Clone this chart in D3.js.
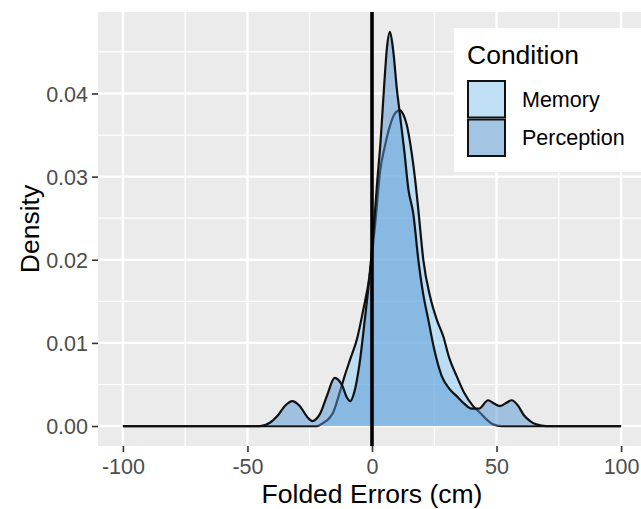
<!DOCTYPE html>
<html>
<head>
<meta charset="utf-8">
<script src="https://cdn.jsdelivr.net/npm/d3@7"></script>
<style>
  body { margin: 0; background: #fff; }
  svg { display: block; }
</style>
</head>
<body>
<svg id="chart"></svg>
<script>
// density curves (x in cm, y = density)
var memoryX = [-100, -22, -19.5, -17, -15.5, -13, -11, -8.8, -6, -3.5, -1, 1.5, 3.2, 5.2, 7.2, 9, 11.2, 12.5, 13.9, 15.9, 17.3, 18.6, 20.6, 23.3, 26, 28.6, 31, 34, 37, 40.6, 43.4, 46, 48.6, 52, 100];
var memoryDensity = [0, 0, 0.0004, 0.0010, 0.0017, 0.0040, 0.0060, 0.0080, 0.0105, 0.0140, 0.0180, 0.0250, 0.0305, 0.0337, 0.0361, 0.0375, 0.0380, 0.0375, 0.0363, 0.0329, 0.0297, 0.0260, 0.0200, 0.0156, 0.0128, 0.0108, 0.0082, 0.0060, 0.0040, 0.0024, 0.0016, 0.0008, 0.0002, 0, 0];

var perceptionX = [-100, -45, -41, -38, -35, -32, -29, -26, -24, -21, -18, -15, -12, -10, -8.8, -7, -5, -3, -1, 0.5, 2, 3.5, 5, 6, 7.2, 8.5, 10, 11.2, 13, 14.6, 16.6, 18.6, 20.6, 22.6, 25, 28, 31, 34, 37, 40, 43, 46.6, 49, 51.4, 54, 56.1, 58.5, 61, 63.5, 66, 70, 100];
var perceptionDensity = [0, 0, 0.0004, 0.0012, 0.0024, 0.0030, 0.0024, 0.0011, 0.0006, 0.0014, 0.0037, 0.0058, 0.0049, 0.0034, 0.0030, 0.0042, 0.0075, 0.0125, 0.0180, 0.0230, 0.0290, 0.0345, 0.0415, 0.0455, 0.0474, 0.0452, 0.0405, 0.0375, 0.0330, 0.0285, 0.0255, 0.0200, 0.0158, 0.0128, 0.0092, 0.0060, 0.0045, 0.0036, 0.0027, 0.0021, 0.0021, 0.0031, 0.0027, 0.0024, 0.0028, 0.0031, 0.0025, 0.0013, 0.0006, 0.0002, 0, 0];

var conditions = ["Memory", "Perception"];
var xTicks = [-100, -50, 0, 50, 100];
var xMinor = [-75, -25, 25, 75];
var yTicks = [0, 0.01, 0.02, 0.03, 0.04];
var yMinor = [0.005, 0.015, 0.025, 0.035, 0.045];

var width = 641, height = 509;
var panel = { left: 98, right: 646, top: 12, bottom: 446 };

var fills = { Memory: "#8ecff7", Perception: "#5495d3" };

var svg = d3.select("#chart").attr("width", width).attr("height", height)
  .style("font-family", "'Liberation Sans', Arial, sans-serif");

var x = d3.scaleLinear().domain([-110, 110]).range([panel.left, panel.right]);
var y = d3.scaleLinear().domain([-0.0024, 0.0498]).range([panel.bottom, panel.top]);

// panel background
svg.append("rect")
  .attr("x", panel.left).attr("y", panel.top)
  .attr("width", panel.right - panel.left).attr("height", panel.bottom - panel.top)
  .attr("fill", "#ebebeb");

// grid lines
var grid = svg.append("g");
grid.selectAll(".xminor").data(xMinor).join("line")
  .attr("x1", d => x(d)).attr("x2", d => x(d))
  .attr("y1", panel.top).attr("y2", panel.bottom)
  .attr("stroke", "#fff").attr("stroke-width", 1.2);
grid.selectAll(".yminor").data(yMinor).join("line")
  .attr("y1", d => y(d)).attr("y2", d => y(d))
  .attr("x1", panel.left).attr("x2", panel.right)
  .attr("stroke", "#fff").attr("stroke-width", 1.2);
grid.selectAll(".xmajor").data(xTicks).join("line")
  .attr("x1", d => x(d)).attr("x2", d => x(d))
  .attr("y1", panel.top).attr("y2", panel.bottom)
  .attr("stroke", "#fff").attr("stroke-width", 2.4);
grid.selectAll(".ymajor").data(yTicks).join("line")
  .attr("y1", d => y(d)).attr("y2", d => y(d))
  .attr("x1", panel.left).attr("x2", panel.right)
  .attr("stroke", "#fff").attr("stroke-width", 2.4);

// densities
var series = [
  { name: "Memory", points: memoryX.map((v, i) => [v, memoryDensity[i]]) },
  { name: "Perception", points: perceptionX.map((v, i) => [v, perceptionDensity[i]]) }
];

var area = d3.area().x(d => x(d[0])).y0(y(0)).y1(d => y(d[1])).curve(d3.curveMonotoneX);
var line = d3.line().x(d => x(d[0])).y(d => y(d[1])).curve(d3.curveMonotoneX);

series.forEach(function (s) {
  var g = svg.append("g");
  g.append("path").attr("d", area(s.points))
    .attr("fill", fills[s.name]).attr("fill-opacity", 0.5);
  g.append("path").attr("d", line(s.points))
    .attr("fill", "none").attr("stroke", "#111").attr("stroke-width", 2.2)
    .attr("stroke-linejoin", "round");
});

// vertical line at zero
svg.append("line")
  .attr("x1", x(0)).attr("x2", x(0))
  .attr("y1", panel.top).attr("y2", panel.bottom)
  .attr("stroke", "#000").attr("stroke-width", 3.6);

// axes
var xAxis = svg.append("g")
  .attr("transform", "translate(0," + panel.bottom + ")")
  .call(d3.axisBottom(x).tickValues(xTicks).tickSize(6).tickPadding(4).tickFormat(d => String(d)));
var yAxis = svg.append("g")
  .attr("transform", "translate(" + panel.left + ",0)")
  .call(d3.axisLeft(y).tickValues(yTicks).tickSize(6).tickPadding(4).tickFormat(d3.format(".2f")));

[xAxis, yAxis].forEach(function (a) {
  a.select(".domain").remove();
  a.selectAll(".tick line").attr("stroke", "#333").attr("stroke-width", 1.6);
  a.selectAll(".tick text").attr("fill", "#4d4d4d")
    .style("font-size", "21.5px").style("font-family", "'Liberation Sans', Arial, sans-serif");
});
xAxis.selectAll(".tick text").attr("dy", "0.83em");
yAxis.selectAll(".tick text").attr("dy", "0.36em");

// axis titles
svg.append("text")
  .attr("x", (panel.left + panel.right) / 2).attr("y", 503)
  .attr("text-anchor", "middle").attr("font-size", 26.5).attr("fill", "#000")
  .text("Folded Errors (cm)");
svg.append("text")
  .attr("transform", "translate(39," + (panel.top + panel.bottom) / 2 + ") rotate(-90)")
  .attr("text-anchor", "middle").attr("font-size", 26.5).attr("fill", "#000")
  .text("Density");

// legend
var legend = svg.append("g");
legend.append("rect")
  .attr("x", 454).attr("y", 28).attr("width", 190).attr("height", 144)
  .attr("fill", "#fff");
legend.append("text")
  .attr("x", 467).attr("y", 64).attr("font-size", 26.5).attr("fill", "#000")
  .text("Condition");
conditions.forEach(function (c, i) {
  var ky = 80 + i * 38.5;
  legend.append("rect").attr("x", 467).attr("y", ky).attr("width", 39).attr("height", 38.5)
    .attr("fill", "#f2f2f2");
  legend.append("rect").attr("x", 468).attr("y", ky + 1).attr("width", 37).attr("height", 36.5)
    .attr("fill", fills[c]).attr("fill-opacity", 0.5)
    .attr("stroke", "#111").attr("stroke-width", 2);
  legend.append("text")
    .attr("x", 522).attr("y", ky + 19).attr("dy", "0.36em")
    .attr("font-size", 21.5).attr("fill", "#000")
    .text(c);
});
</script>
</body>
</html>
